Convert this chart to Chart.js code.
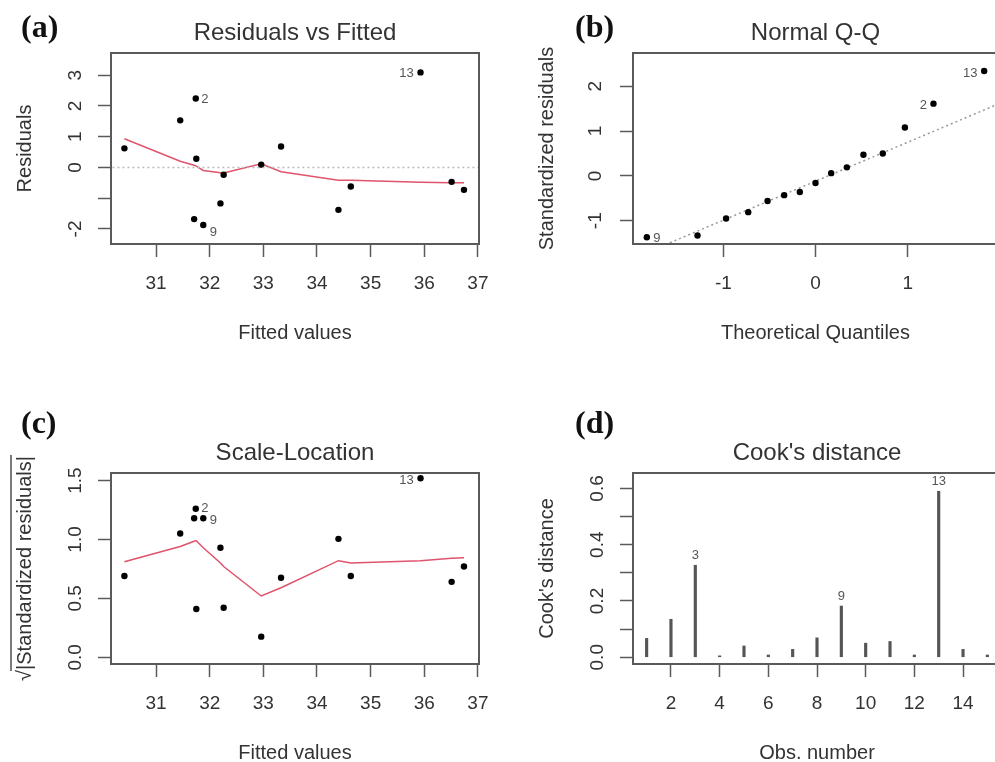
<!DOCTYPE html>
<html><head><meta charset="utf-8">
<script src="https://cdn.jsdelivr.net/npm/chart.js@4.4.1/dist/chart.umd.min.js"></script>
<style>
html,body{margin:0;padding:0;background:#fff;overflow:hidden;width:995px;height:762px;}
.panel{position:absolute;}
canvas{display:block;}
</style></head><body>
<div class="panel" style="left:0;top:0"><canvas id="ca" width="497" height="380"></canvas></div>
<div class="panel" style="left:497px;top:0"><canvas id="cb" width="520" height="380"></canvas></div>
<div class="panel" style="left:0;top:380px"><canvas id="cc" width="497" height="382"></canvas></div>
<div class="panel" style="left:497px;top:380px"><canvas id="cd" width="520" height="382"></canvas></div>
<script>
// ---------- data ----------
const fittedValues   = [30.41, 31.45, 31.71, 31.74, 31.75, 31.88, 32.20, 32.26, 32.96, 33.33, 34.40, 34.63, 35.93, 36.51, 36.74];
const residuals      = [0.62, 1.53, -1.68, 2.24, 0.28, -1.87, -1.17, -0.24, 0.09, 0.68, -1.38, -0.62, 3.09, -0.47, -0.73];
const sqrtStdResid   = [0.69, 1.05, 1.18, 1.26, 0.41, 1.18, 0.93, 0.42, 0.175, 0.675, 1.005, 0.69, 1.52, 0.64, 0.77];
const obsIdLabels    = ['', '', '', '2', '', '9', '', '', '', '', '', '', '13', '', ''];
const residSmooth    = [0.93, 0.20, 0.07, 0.05, 0.04, -0.10, -0.17, -0.18, 0.12, -0.14, -0.42, -0.42, -0.48, -0.50, -0.50];
const scaleSmooth    = [0.81, 0.94, 0.985, 0.99, 0.99, 0.93, 0.80, 0.77, 0.52, 0.59, 0.82, 0.80, 0.82, 0.84, 0.845];
const zeroRefX       = [30, 38];
const zeroRefY       = [0, 0];

const theoQuantiles  = [-1.83, -1.28, -0.97, -0.73, -0.52, -0.34, -0.17, 0, 0.17, 0.34, 0.52, 0.73, 0.97, 1.28, 1.83];
const stdResidSorted = [-1.37, -1.33, -0.95, -0.81, -0.56, -0.43, -0.36, -0.16, 0.06, 0.19, 0.47, 0.50, 1.08, 1.61, 2.34];
const qqIdLabels     = ['9', '', '', '', '', '', '', '', '', '', '', '', '', '2', '13'];
const qqLineX        = [-1.98, 1.98];
const qqLineY        = [-1.84, 1.60];

const obsNumber      = [1, 2, 3, 4, 5, 6, 7, 8, 9, 10, 11, 12, 13, 14, 15];
const cooksDistance  = [0.067, 0.135, 0.327, 0.005, 0.040, 0.008, 0.028, 0.069, 0.182, 0.050, 0.056, 0.008, 0.590, 0.028, 0.008];
const cookIdLabels   = ['', '', '3', '', '', '', '', '', '9', '', '', '', '13', '', ''];

const fittedTicks       = [31, 32, 33, 34, 35, 36, 37];
const residTicks        = [-2, -1, 0, 1, 2, 3];
const residTickLabels   = ['-2', '', '0', '1', '2', '3'];
const qqXTicks          = [-1, 0, 1];
const qqYTicks          = [-1, 0, 1, 2];
const scaleYTicks       = [0, 0.5, 1, 1.5];
const scaleYTickLabels  = ['0.0', '0.5', '1.0', '1.5'];
const obsTicks          = [2, 4, 6, 8, 10, 12, 14];
const cookYTicks        = [0, 0.1, 0.2, 0.3, 0.4, 0.5, 0.6];
const cookYTickLabels   = ['0.0', '', '0.2', '', '0.4', '', '0.6'];

// ---------- styling ----------
const FONT = '"Liberation Sans", Arial, sans-serif';
const FRAME = '#5a5a5a';
const SMOOTH = '#DF536B';
const pts = (xs, ys) => xs.map((x, i) => ({x: x, y: ys[i]}));

function axis(o) {
  const horiz = o.position === 'bottom';
  return {
    type: 'linear', position: o.position, min: o.min, max: o.max, offset: false,
    afterBuildTicks: s => { s.ticks = o.ticks.map(v => ({value: v})); },
    afterFit: s => {
      if (horiz) s.height = o.size; else s.width = o.size;
      s.paddingLeft = 0; s.paddingRight = 0; s.paddingTop = 0; s.paddingBottom = 0;
    },
    grid: {drawOnChartArea: false, drawTicks: true, tickLength: 13, tickWidth: 1.5, tickColor: FRAME, color: FRAME, offset: false},
    border: {display: true, color: FRAME, width: 2},
    ticks: {
      autoSkip: false, color: '#333', font: {family: FONT, size: 19}, padding: o.pad,
      minRotation: horiz ? 0 : 90, maxRotation: horiz ? 0 : 90, crossAlign: horiz ? 'near' : 'center',
      callback: (v, i) => o.labels ? o.labels[i] : String(v)
    }
  };
}

function decor(cfg) {
  return {
    id: 'decor',
    afterDraw(chart) {
      const ctx = chart.ctx, a = chart.chartArea;
      const cx = (a.left + a.right) / 2, cy = (a.top + a.bottom) / 2;
      ctx.save();
      ctx.strokeStyle = FRAME; ctx.lineWidth = 2;
      ctx.strokeRect(a.left, a.top, a.right - a.left, a.bottom - a.top);
      ctx.fillStyle = '#333'; ctx.textAlign = 'center'; ctx.textBaseline = 'middle';
      ctx.font = '24px ' + FONT;
      ctx.fillText(cfg.title, cx, a.top - 20);
      ctx.font = '20px ' + FONT;
      ctx.fillText(cfg.xTitle, cx, a.bottom + 89);
      ctx.save();
      ctx.translate(a.left - 86, cy); ctx.rotate(-Math.PI / 2);
      if (cfg.sqrt) {
        const w = ctx.measureText(cfg.yTitle).width;
        const rw = ctx.measureText('\u221A').width;
        const start = -(w + rw) / 2;
        ctx.textAlign = 'left';
        ctx.fillText('\u221A', start, 0);
        ctx.fillText(cfg.yTitle, start + rw, 0);
        ctx.strokeStyle = '#333'; ctx.lineWidth = 1.3;
        ctx.beginPath(); ctx.moveTo(start + rw - 1, -14); ctx.lineTo(start + rw + w + 1, -14); ctx.stroke();
      } else {
        ctx.fillText(cfg.yTitle, 0, 0);
      }
      ctx.restore();
      ctx.font = 'bold 32px "Liberation Serif", "Times New Roman", serif';
      ctx.fillStyle = '#111'; ctx.textAlign = 'left';
      ctx.fillText(cfg.letter, cfg.letterPos[0], cfg.letterPos[1]);
      ctx.font = '13px ' + FONT; ctx.fillStyle = '#555'; ctx.textAlign = 'center';
      chart.data.datasets.forEach((ds, di) => {
        if (!ds.idLabels) return;
        const meta = chart.getDatasetMeta(di);
        ds.idLabels.forEach((lab, i) => {
          if (!lab) return;
          const el = meta.data[i];
          const off = cfg.labelOffsets[lab] || [0, 0];
          ctx.fillText(lab, el.x + off[0], el.y + off[1]);
        });
      });
      ctx.restore();
    }
  };
}

const common = {responsive: false, animation: false, devicePixelRatio: 1,
  plugins: {legend: {display: false}, tooltip: {enabled: false}, title: {display: false}}};

function opts(layoutPad, xAx, yAx) {
  return Object.assign({}, common, {layout: {padding: layoutPad}, scales: {x: xAx, y: yAx}});
}

// (a) Residuals vs Fitted
new Chart(document.getElementById('ca'), {
  type: 'scatter',
  data: {datasets: [
    {data: pts(zeroRefX, zeroRefY), showLine: true, pointRadius: 0, borderColor: '#bbbbbb', borderWidth: 1.5, borderDash: [2, 3]},
    {data: pts(fittedValues, residuals), pointRadius: 3.2, pointBackgroundColor: '#000', pointBorderWidth: 0, idLabels: obsIdLabels},
    {data: pts(fittedValues, residSmooth), showLine: true, pointRadius: 0, borderColor: SMOOTH, borderWidth: 1.5}
  ]},
  options: opts({top: 53, right: 18, left: 0, bottom: 0},
    axis({position: 'bottom', min: 30.16, max: 37.02, ticks: fittedTicks, size: 136, pad: 15}),
    axis({position: 'left', min: -2.49, max: 3.72, ticks: residTicks, labels: residTickLabels, size: 111, pad: 14})),
  plugins: [decor({title: 'Residuals vs Fitted', xTitle: 'Fitted values', yTitle: 'Residuals', letter: '(a)', letterPos: [21, 29],
    labelOffsets: {'2': [9, 1], '9': [10, 7], '13': [-14, 1]}})]
});

// (b) Normal Q-Q
new Chart(document.getElementById('cb'), {
  type: 'scatter',
  data: {datasets: [
    {data: pts(theoQuantiles, stdResidSorted), pointRadius: 3.2, pointBackgroundColor: '#000', pointBorderWidth: 0, idLabels: qqIdLabels},
    {data: pts(qqLineX, qqLineY), showLine: true, pointRadius: 0, borderColor: '#999999', borderWidth: 1.5, borderDash: [2, 3]}
  ]},
  options: opts({top: 53, right: 19, left: 0, bottom: 0},
    axis({position: 'bottom', min: -1.98, max: 1.98, ticks: qqXTicks, size: 136, pad: 15}),
    axis({position: 'left', min: -1.52, max: 2.74, ticks: qqYTicks, size: 136, pad: 16})),
  plugins: [decor({title: 'Normal Q-Q', xTitle: 'Theoretical Quantiles', yTitle: 'Standardized residuals', letter: '(b)', letterPos: [78, 29],
    labelOffsets: {'2': [-10, 2], '9': [10, 1], '13': [-14, 2]}})]
});

// (c) Scale-Location
new Chart(document.getElementById('cc'), {
  type: 'scatter',
  data: {datasets: [
    {data: pts(fittedValues, sqrtStdResid), pointRadius: 3.2, pointBackgroundColor: '#000', pointBorderWidth: 0, idLabels: obsIdLabels},
    {data: pts(fittedValues, scaleSmooth), showLine: true, pointRadius: 0, borderColor: SMOOTH, borderWidth: 1.5}
  ]},
  options: opts({top: 93, right: 18, left: 0, bottom: 0},
    axis({position: 'bottom', min: 30.16, max: 37.02, ticks: fittedTicks, size: 98, pad: 15}),
    axis({position: 'left', min: -0.057, max: 1.564, ticks: scaleYTicks, labels: scaleYTickLabels, size: 111, pad: 9})),
  plugins: [decor({title: 'Scale-Location', xTitle: 'Fitted values', yTitle: '|Standardized residuals|', sqrt: true, letter: '(c)', letterPos: [21, 45],
    labelOffsets: {'2': [9, 0], '9': [10, 2], '13': [-14, 2]}})]
});

// (d) Cook's distance
new Chart(document.getElementById('cd'), {
  type: 'bar',
  data: {datasets: [
    {data: pts(obsNumber, cooksDistance), backgroundColor: '#555', borderWidth: 0, barThickness: 2.5, idLabels: cookIdLabels}
  ]},
  options: opts({top: 93, right: 16, left: 0, bottom: 0},
    axis({position: 'bottom', min: 0.44, max: 15.56, ticks: obsTicks, size: 98, pad: 15}),
    axis({position: 'left', min: -0.024, max: 0.655, ticks: cookYTicks, labels: cookYTickLabels, size: 136, pad: 9})),
  plugins: [decor({title: "Cook's distance", xTitle: 'Obs. number', yTitle: "Cook's distance", letter: '(d)', letterPos: [78, 45],
    labelOffsets: {'3': [0, -10], '9': [0, -10], '13': [0, -10]}})]
});
</script>
</body></html>
